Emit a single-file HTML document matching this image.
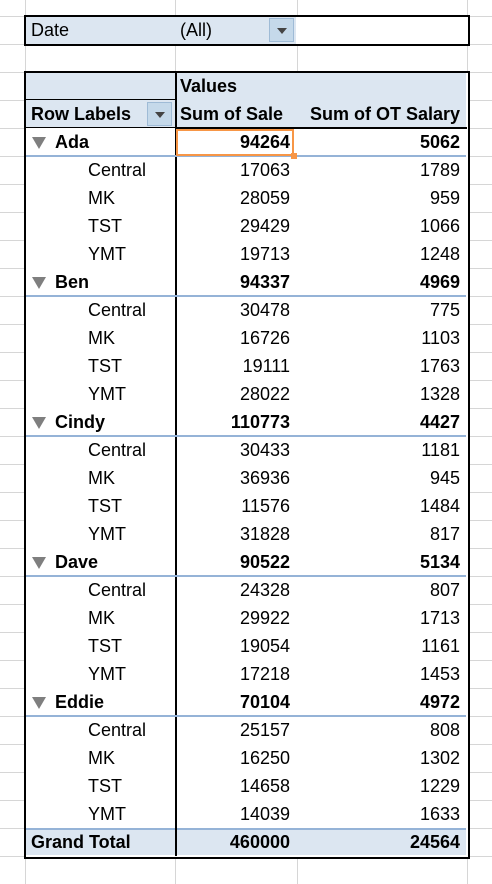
<!DOCTYPE html>
<html><head><meta charset="utf-8">
<style>
body{margin:0;width:492px;height:884px;overflow:hidden;background:#fff;font-family:"Liberation Sans",sans-serif;font-size:18px;position:relative;color:#000}
.h{position:absolute;left:0;width:492px;height:1px;background:#d6d6d6}
.v{position:absolute;top:0;height:884px;width:1px;background:#d6d6d6}
.c{position:absolute;height:28px;line-height:29px;white-space:nowrap}
.b{font-weight:bold}
.r{text-align:right}
</style></head><body>
<div id="grid"></div>
<div style="position:absolute;left:24px;top:15px;width:442px;height:27px;border:2px solid #000;background:#fff"></div>
<div style="position:absolute;left:26px;top:17px;width:270px;height:27px;background:#dce6f1"></div>
<div class="c" style="left:31px;top:16px">Date</div>
<div class="c" style="left:180px;top:16px">(All)</div>
<div style="position:absolute;left:269px;top:18px;width:25px;height:24px;background:#c5d9ea;border:1px solid #9fbbd6;box-sizing:border-box"><div style="position:absolute;left:7px;top:9px;border-left:5px solid transparent;border-right:5px solid transparent;border-top:6px solid #444"></div></div>
<div id="pt" style="position:absolute;left:24px;top:71px;width:442px;height:784px;border:2px solid #000;background:#fff"></div>
<script>
const people=["Ada","Ben","Cindy","Dave","Eddie"];
const regions=["Central","MK","TST","YMT"];
const personSale=[94264,94337,110773,90522,70104];
const personOT=[5062,4969,4427,5134,4972];
const regionSale=[[17063,28059,29429,19713],[30478,16726,19111,28022],[30433,36936,11576,31828],[24328,29922,19054,17218],[25157,16250,14658,14039]];
const regionOT=[[1789,959,1066,1248],[775,1103,1763,1328],[1181,945,1484,817],[807,1713,1161,1453],[808,1302,1229,1633]];
const grandSale=460000, grandOT=24564;
const R=28, top0=16;
const g=document.getElementById('grid');
for(let i=0;i<=31;i++){const d=document.createElement('div');d.className='h';d.style.top=(top0+R*i-28)+'px';


g.appendChild(d);}
[25,175,297,467].forEach(x=>{const d=document.createElement('div');d.className='v';d.style.left=x+'px';


g.appendChild(d);});
function box(l,t,w,h,bg,name){const d=document.createElement('div');d.style.cssText=`position:absolute;left:${l}px;top:${t}px;width:${w}px;height:${h}px;background:${bg}`;


document.body.appendChild(d);return d;}
function txt(s,l,t,cls,name,right){const d=document.createElement('div');d.className='c '+(cls||'');d.textContent=s;
if(right!==undefined){d.style.right=(492-right)+'px';}else d.style.left=l+'px';d.style.top=t+'px';


document.body.appendChild(d);return d;}
box(26,73,440,55,'#dce6f1','header-bg');
box(175,72,2,784,'#000','column-divider');
box(26,99,149,1,'#000','header-line-left');
box(175,127,292,2,'#000','header-line');
box(26,127,149,1,'#000','header-line-left2');
txt('Values',180,72,'b','values-header');
txt('Row Labels',31,100,'b','row-labels-header');
txt('Sum of Sale',180,100,'b','sum-of-sale-header');
txt('Sum of OT Salary',0,100,'b','sum-of-ot-header',460);
const dd=box(147,102,25,24,'#c5d9ea','row-labels-dropdown');dd.style.border='1px solid #9fbbd6';dd.style.boxSizing='border-box';
dd.innerHTML='<div style="position:absolute;left:7px;top:9px;border-left:5px solid transparent;border-right:5px solid transparent;border-top:6px solid #444"></div>';
let y=128;
people.forEach((p,i)=>{
  const tri=box(32,y+9,0,0,'transparent','collapse-toggle');
  tri.style.borderLeft='7px solid transparent';tri.style.borderRight='7px solid transparent';tri.style.borderTop='12px solid #7f7f7f';
  txt(p,55,y,'b','person-label');
  txt(String(personSale[i]),0,y,'b','person-sale',290);
  txt(String(personOT[i]),0,y,'b','person-ot',460);
  box(26,y+27,440,2,'#95b3d7','group-separator');
  y+=R;
  regions.forEach((r,j)=>{
    txt(r,88,y,'','region-label');
    txt(String(regionSale[i][j]),0,y,'','region-sale',290);
    txt(String(regionOT[i][j]),0,y,'','region-ot',460);
    y+=R;
  });
});
box(26,y,440,27,'#dce6f1','grand-total-bg');
box(26,y,440,2,'#95b3d7','grand-total-line');
box(175,y,2,28,'#000','column-divider-total');
txt('Grand Total',31,y,'b','grand-total-label');
txt(String(grandSale),0,y,'b','grand-total-sale',290);
txt(String(grandOT),0,y,'b','grand-total-ot',460);
const sel=box(176,129,118,27,'transparent','selected-cell');sel.style.border='2px solid #f79646';sel.style.boxSizing='border-box';
box(291,153,6,6,'#f79646','fill-handle');
</script>
</body></html>
